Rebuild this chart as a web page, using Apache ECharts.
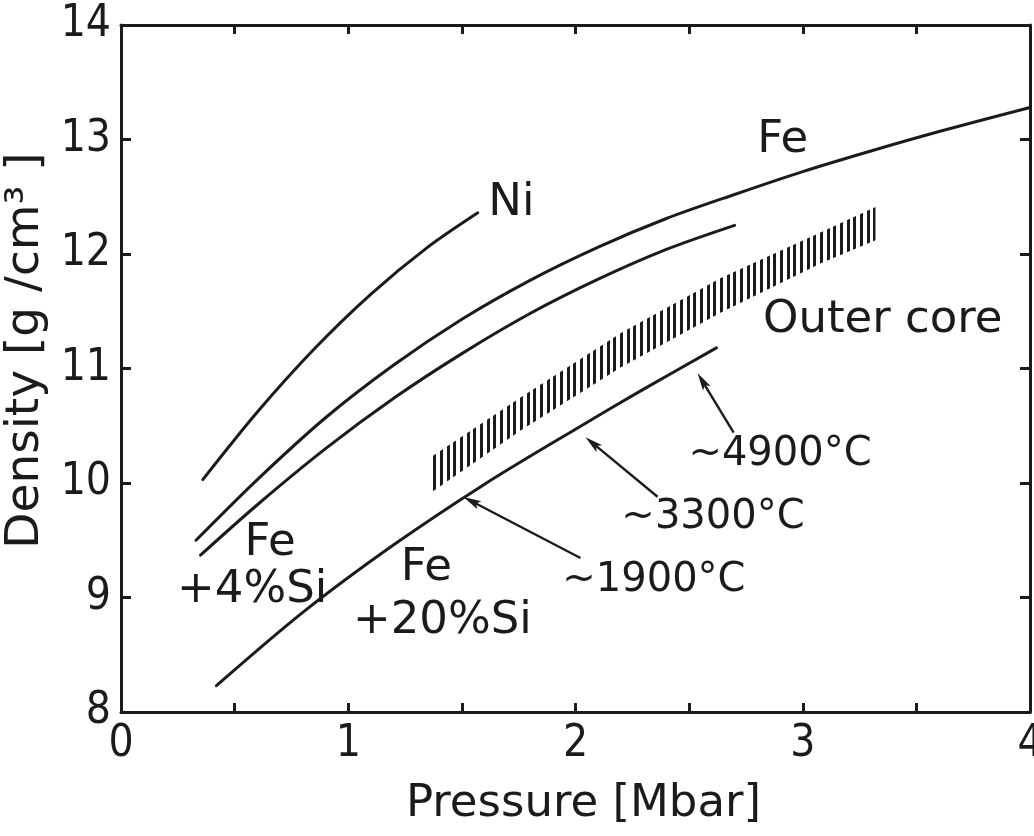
<!DOCTYPE html>
<html>
<head>
<meta charset="utf-8">
<script src="https://cdn.jsdelivr.net/npm/echarts@6/dist/echarts.min.js"></script>
<style>
  html, body { margin: 0; padding: 0; background: #ffffff; }
  #chart { width: 1034px; height: 836px; }
</style>
</head>
<body>
<div id="chart"></div>
<script>
// Density of Ni, Fe and Fe–Si alloys versus pressure (Mbar, g/cm³)
const niP      = [0.36, 0.60, 0.85, 1.10, 1.35, 1.57];
const niRho    = [10.03, 10.62, 11.17, 11.65, 12.06, 12.36];

const feP      = [0.33, 0.60, 0.90, 1.20, 1.50, 1.80, 2.10, 2.40, 2.70, 3.00, 3.30, 3.60, 4.00];
const feRho    = [9.50, 10.03, 10.57, 11.03, 11.43, 11.77, 12.06, 12.31, 12.52, 12.72, 12.90, 13.07, 13.28];

const fe4SiP   = [0.35, 0.60, 0.90, 1.20, 1.50, 1.80, 2.10, 2.40, 2.70];
const fe4SiRho = [9.37, 9.81, 10.30, 10.74, 11.13, 11.48, 11.78, 12.04, 12.25];

const fe20SiP   = [0.42, 0.80, 1.20, 1.60, 2.00, 2.30, 2.62];
const fe20SiRho = [8.23, 8.87, 9.46, 9.99, 10.47, 10.82, 11.18];

// Outer core band: pressure with lower and upper density bounds
const coreP    = [1.36, 1.76, 2.20, 2.64, 3.08, 3.32];
const coreLow  = [9.91, 10.46, 11.01, 11.49, 11.92, 12.12];
const coreHigh = [10.22, 10.75, 11.31, 11.79, 12.19, 12.41];

// Temperature arrows: [tail P, tail rho] pointing to [tip P, tip rho]
const arrowTail = [[2.022, 9.345], [2.361, 9.88], [2.696, 10.44]];
const arrowTip  = [[1.507, 9.878], [2.044, 10.40], [2.537, 10.96]];

// Text annotations inside the plot
const noteText = ['Ni', 'Fe', 'Outer core', '~4900°C', '~3300°C', '~1900°C', 'Fe', '+4%Si', 'Fe', '+20%Si'];
const noteP    = [1.718, 2.912, 3.352, 2.900, 2.605, 2.345, 0.656, 0.577, 1.344, 1.414];
const noteRho  = [12.44, 12.99, 11.42, 10.25, 9.70, 9.15, 9.476, 9.066, 9.258, 8.795];
const noteSize = [45, 45, 45, 40, 40, 40, 45, 45, 45, 45];

// Tick labels
const xTickLabels = ['0', '1', '2', '3', '4'];
const yTickLabels = ['8', '9', '10', '11', '12', '13', '14'];

const INK = '#1b1b1b';
const FONT = 'DejaVu Sans';
const NUM_FONT = '"DejaVu Sans Condensed", "DejaVu Sans"';

const pairs = (xs, ys) => xs.map((x, i) => [x, ys[i]]);

// vertical hatching used to fill the outer core band
const hatch = document.createElement('canvas');
hatch.width = 20; hatch.height = 8;
const hctx = hatch.getContext('2d');
hctx.fillStyle = INK;
[0, 7, 13].forEach(o => hctx.fillRect(o, 0, 3, 8));

const curve = (name, xs, ys) => ({
  name, type: 'line', data: pairs(xs, ys), smooth: 0.3,
  showSymbol: false, symbol: 'none', silent: true, z: 3,
  lineStyle: { color: INK, width: 3, cap: 'round' }
});

const chart = echarts.init(document.getElementById('chart'), null, { renderer: 'canvas' });

const xAxisBase = {
  type: 'value', min: 0, max: 4, interval: 0.5,
  axisLine: { show: true, onZero: false, lineStyle: { color: INK, width: 3 } },
  axisTick: { show: true, inside: true, length: 9, lineStyle: { color: INK, width: 3 } },
  splitLine: { show: false }
};
const yAxisBase = {
  type: 'value', min: 8, max: 14, interval: 1,
  axisLine: { show: true, onZero: false, lineStyle: { color: INK, width: 3 } },
  axisTick: { show: true, inside: true, length: 10, lineStyle: { color: INK, width: 3 } },
  splitLine: { show: false }
};

chart.setOption({
  backgroundColor: '#ffffff',
  animation: false,
  grid: { left: 121, right: 4, top: 25, bottom: 124, containLabel: false, outerBoundsMode: 'none' },
  xAxis: [
    Object.assign({}, xAxisBase, {
      position: 'bottom',
      name: 'Pressure [Mbar]', nameLocation: 'middle', nameGap: 70,
      nameTextStyle: { fontFamily: FONT, fontSize: 45, color: INK, padding: [0, 0, 0, 16] },
      axisLabel: {
        show: true, margin: 11, fontFamily: NUM_FONT, fontSize: 44, color: INK,
        showMaxLabel: true, showMinLabel: true,
        formatter: v => Number.isInteger(v) ? xTickLabels[v] : ''
      }
    }),
    Object.assign({}, xAxisBase, { position: 'top', axisLabel: { show: false } })
  ],
  yAxis: [
    Object.assign({}, yAxisBase, {
      position: 'left',
      name: 'Density [g /cm³ ]', nameLocation: 'middle', nameGap: 68, nameRotate: 90,
      nameTextStyle: { fontFamily: FONT, fontSize: 47, color: INK, padding: [0, 0, 0, 36] },
      axisLabel: {
        show: true, margin: 10, fontFamily: NUM_FONT, fontSize: 44, color: INK,
        formatter: v => yTickLabels[v - 8]
      }
    }),
    Object.assign({}, yAxisBase, { position: 'right', axisLabel: { show: false } })
  ],
  series: [
    {
      name: 'Outer core', type: 'custom', silent: true, z: 2,
      data: pairs(coreP, coreLow).map((d, i) => [d[0], d[1], coreHigh[i]]),
      encode: { x: 0, y: [1, 2] },
      renderItem: (params, api) => {
        if (params.dataIndex !== 0) return null;
        const pts = [];
        coreP.forEach((p, i) => pts.push(api.coord([p, coreHigh[i]])));
        for (let i = coreP.length - 1; i >= 0; i--) pts.push(api.coord([coreP[i], coreLow[i]]));
        return {
          type: 'polygon', shape: { points: pts },
          style: { fill: { image: hatch, repeat: 'repeat' }, stroke: null }
        };
      }
    },
    curve('Ni', niP, niRho),
    curve('Fe', feP, feRho),
    curve('Fe+4%Si', fe4SiP, fe4SiRho),
    curve('Fe+20%Si', fe20SiP, fe20SiRho),
    {
      name: 'arrows', type: 'custom', silent: true, z: 4,
      data: arrowTail.map((t, i) => [t[0], t[1], arrowTip[i][0], arrowTip[i][1]]),
      encode: { x: [0, 2], y: [1, 3] },
      renderItem: (params, api) => {
        const a = api.coord([api.value(0), api.value(1)]);
        const b = api.coord([api.value(2), api.value(3)]);
        const dx = b[0] - a[0], dy = b[1] - a[1];
        const len = Math.hypot(dx, dy);
        const ux = dx / len, uy = dy / len;
        const headL = 18, headW = 4.5;
        const base = [b[0] - ux * headL, b[1] - uy * headL];
        return {
          type: 'group',
          children: [
            {
              type: 'line',
              shape: { x1: a[0], y1: a[1], x2: base[0] + ux * 4, y2: base[1] + uy * 4 },
              style: { stroke: INK, lineWidth: 2.4 }
            },
            {
              type: 'polygon',
              shape: {
                points: [
                  b,
                  [base[0] - uy * headW, base[1] + ux * headW],
                  [base[0] + ux * 4, base[1] + uy * 4],
                  [base[0] + uy * headW, base[1] - ux * headW]
                ]
              },
              style: { fill: INK }
            }
          ]
        };
      }
    },
    {
      name: 'notes', type: 'scatter', silent: true, z: 5,
      symbolSize: 0, itemStyle: { color: INK, opacity: 1 },
      data: noteText.map((t, i) => ({
        name: t, value: [noteP[i], noteRho[i]],
        label: { fontSize: noteSize[i] }
      })),
      label: {
        show: true, position: 'inside', formatter: '{b}',
        fontFamily: FONT, fontSize: 45, color: INK, opacity: 1,
        textBorderWidth: 0,
        align: 'center', verticalAlign: 'middle'
      }
    }
  ]
});
</script>
</body>
</html>
